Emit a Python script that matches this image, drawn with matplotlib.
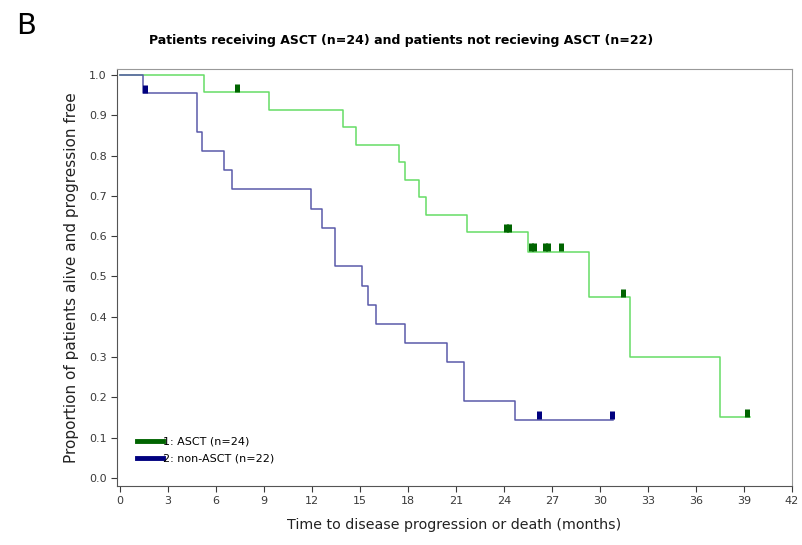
import matplotlib
matplotlib.use('Agg')
import matplotlib.pyplot as plt

# ASCT group (n=24): event times (months) and survival after each step
ascT_times = [0, 5.25, 9.3, 13.9, 14.75, 17.4, 17.8, 18.7, 19.1, 21.7, 25.5, 29.3, 31.9, 37.5]
ascT_surv = [1.0, 0.958, 0.914, 0.871, 0.827, 0.784, 0.740, 0.697, 0.653, 0.610, 0.562, 0.449, 0.300, 0.150]
ascT_end = 39.4
ascT_censor = [7.3, 24.1, 24.3, 25.7, 25.9, 26.55, 26.75, 27.55, 31.45, 39.2]

# non-ASCT group (n=22)
non_times = [0, 1.45, 4.8, 5.1, 6.5, 7.0, 11.9, 12.6, 13.4, 15.1, 15.5, 16.0, 17.8, 20.4, 21.5, 24.7]
non_surv = [1.0, 0.955, 0.859, 0.812, 0.764, 0.716, 0.668, 0.620, 0.525, 0.477, 0.430, 0.382, 0.335, 0.287, 0.192, 0.144]
non_end = 30.8
non_censor = [1.55, 26.2, 30.75]

x_ticks = list(range(0, 43, 3))
y_ticks = [i / 10 for i in range(11)]


def surv_at(t, times, surv):
    s = surv[0]
    for tt, ss in zip(times, surv):
        if tt <= t:
            s = ss
    return s


def draw_group(ax, times, surv, t_end, censor, line_col, mark_col, label):
    xs = times + [t_end]
    ys = surv + [surv[-1]]
    ax.step(xs, ys, where='post', color=line_col, lw=1.1, zorder=3)
    cy = [surv_at(t, times, surv) + 0.011 for t in censor]
    ax.plot(censor, cy, ls='none', marker='|', markersize=6, markeredgewidth=3.6,
            color=mark_col, zorder=4)
    ax.plot([], [], color=mark_col, lw=3.5, label=label)


fig = plt.figure(figsize=(8.03, 5.45), dpi=100)
ax = fig.add_axes([0.1457, 0.1083, 0.8406, 0.7651])

draw_group(ax, ascT_times, ascT_surv, ascT_end, ascT_censor, '#66dd66', '#006400', '1: ASCT (n=24)')
draw_group(ax, non_times, non_surv, non_end, non_censor, '#5a5aaa', '#00007f', '2: non-ASCT (n=22)')

ax.set_xlim(-0.2, 42)
ax.set_ylim(-0.02, 1.015)
ax.set_xticks(x_ticks)
ax.set_yticks(y_ticks)
ax.set_yticklabels([f"{v:.1f}" for v in y_ticks])
ax.tick_params(labelsize=8, colors='#3a3a3a', length=4, width=0.8)

for side in ['left', 'bottom']:
    ax.spines[side].set_color('#555555')
for side in ['top', 'right']:
    ax.spines[side].set_color('#999999')

ax.set_xlabel('Time to disease progression or death (months)', fontsize=10.3, color='#222222', labelpad=8)
ax.set_ylabel('Proportion of patients alive and progression free', fontsize=11, color='#222222', labelpad=7)

leg = ax.legend(loc='lower left', bbox_to_anchor=(0.015, 0.03), frameon=False, fontsize=8,
                handlelength=2.3, handletextpad=0.0, labelspacing=0.6)

fig.text(0.5, 0.925, 'Patients receiving ASCT (n=24) and patients not recieving ASCT (n=22)',
         ha='center', va='center', fontsize=9, fontweight='bold', family='Liberation Sans Narrow')
fig.text(0.02, 0.953, 'B', ha='left', va='center', fontsize=21, family='DejaVu Sans')

fig.savefig('out.png', dpi=100)
